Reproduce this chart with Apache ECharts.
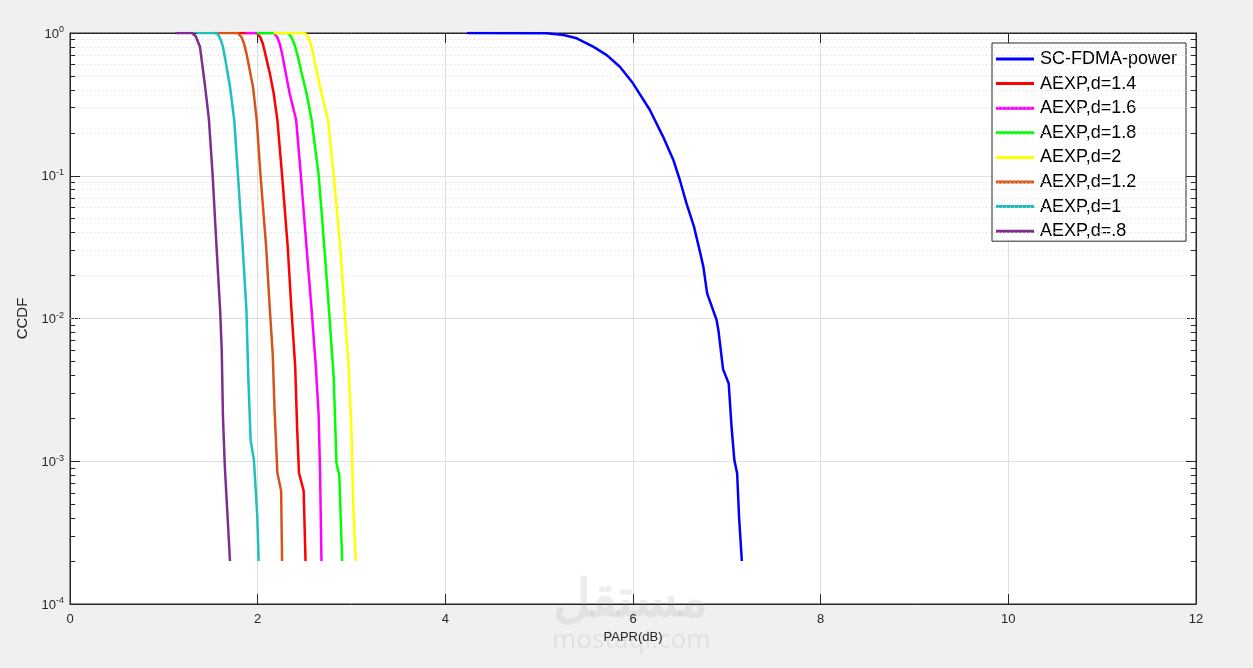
<!DOCTYPE html>
<html>
<head>
<meta charset="utf-8">
<script src="https://cdn.jsdelivr.net/npm/echarts@6/dist/echarts.min.js"></script>
<style>
html,body{margin:0;padding:0;background:#f0f0f0;}
#chart{width:1253px;height:668px;}
</style>
</head>
<body>
<div id="chart"></div>
<script>
// ---- Data ----
const seriesNames = ['SC-FDMA-power','AEXP,d=1.4','AEXP,d=1.6','AEXP,d=1.8','AEXP,d=2','AEXP,d=1.2','AEXP,d=1','AEXP,d=.8'];
const seriesColors = ['#0000ff','#ff0000','#ff00ff','#00ff00','#ffff00','#d95319','#1fbfbf','#7e2f8e'];

const scFdmaPower = [[4.23,1],[5.08,0.995],[5.26,0.968],[5.40,0.918],[5.58,0.80],[5.72,0.70],[5.86,0.58],[6.0,0.444],[6.18,0.289],[6.32,0.188],[6.43,0.129],[6.50,0.093],[6.57,0.064],[6.65,0.044],[6.71,0.030],[6.75,0.023],[6.79,0.015],[6.89,0.0098],[6.91,0.0083],[6.96,0.0044],[7.02,0.0035],[7.05,0.00175],[7.08,0.00102],[7.11,0.00082],[7.13,0.00041],[7.16,0.0002]];
const aexpD14 = [[1.78,1],[1.99,1],[2.01,0.98],[2.03,0.93],[2.055,0.84],[2.08,0.72],[2.13,0.52],[2.17,0.38],[2.21,0.246],[2.26,0.101],[2.32,0.032],[2.36,0.0115],[2.40,0.0046],[2.42,0.00174],[2.44,0.00083],[2.49,0.00062],[2.51,0.0002]];
const aexpD16 = [[1.87,1],[2.17,1],[2.19,0.98],[2.21,0.93],[2.235,0.84],[2.26,0.72],[2.30,0.52],[2.34,0.38],[2.41,0.246],[2.46,0.101],[2.52,0.032],[2.575,0.0115],[2.62,0.0046],[2.65,0.0021],[2.665,0.00083],[2.68,0.0002]];
const aexpD18 = [[1.99,1],[2.31,1],[2.335,0.98],[2.36,0.93],[2.39,0.84],[2.42,0.72],[2.47,0.52],[2.52,0.38],[2.575,0.246],[2.65,0.101],[2.71,0.032],[2.76,0.0115],[2.81,0.0039],[2.84,0.00097],[2.87,0.00080],[2.90,0.0002]];
const aexpD20 = [[2.17,1],[2.49,1],[2.515,0.98],[2.54,0.93],[2.565,0.84],[2.59,0.72],[2.635,0.52],[2.68,0.38],[2.75,0.246],[2.81,0.101],[2.88,0.032],[2.925,0.0115],[2.97,0.0046],[3.00,0.00156],[3.02,0.00046],[3.045,0.0002]];
const aexpD12 = [[1.53,1],[1.79,1],[1.81,0.98],[1.83,0.93],[1.855,0.84],[1.88,0.72],[1.915,0.55],[1.95,0.42],[1.99,0.246],[2.03,0.101],[2.09,0.032],[2.13,0.0115],[2.16,0.0057],[2.18,0.0023],[2.21,0.00083],[2.25,0.00062],[2.26,0.0002]];
const aexpD10 = [[1.35,1],[1.56,1],[1.575,0.98],[1.59,0.95],[1.61,0.88],[1.63,0.80],[1.665,0.60],[1.705,0.42],[1.75,0.246],[1.79,0.101],[1.84,0.032],[1.88,0.0115],[1.90,0.0039],[1.925,0.0014],[1.96,0.00102],[1.996,0.00041],[2.01,0.0002]];
const aexpD08 = [[1.12,1],[1.30,1],[1.32,0.98],[1.34,0.95],[1.36,0.88],[1.385,0.80],[1.41,0.60],[1.44,0.42],[1.48,0.25],[1.52,0.101],[1.556,0.037],[1.60,0.0115],[1.617,0.006],[1.63,0.00206],[1.65,0.00092],[1.705,0.0002]];
const seriesData = [scFdmaPower,aexpD14,aexpD16,aexpD18,aexpD20,aexpD12,aexpD10,aexpD08];

const xTicks = [0,2,4,6,8,10,12];
const yDecades = [1e-4,1e-3,1e-2,1e-1,1];
const minorMultipliers = [2,3,4,5,6,7,8,9];

// minor log values
const minorValues = [];
for (let i = 0; i < yDecades.length - 1; i++) {
  for (const m of minorMultipliers) minorValues.push(+(yDecades[i] * m).toPrecision(3));
}

const chart = echarts.init(document.getElementById('chart'));
const axisColor = '#262626';
const fontFam = 'Liberation Sans, Arial, sans-serif';
const tickLen = 0.055; // in x-units (~5px)
const xMin = xTicks[0], xMax = xTicks[xTicks.length - 1];

const series = seriesNames.map((name, i) => ({
  name: name,
  type: 'line',
  data: seriesData[i],
  symbol: 'none',
  showSymbol: false,
  lineStyle: { width: 2.5, color: seriesColors[i], type: 'solid' },
  itemStyle: { color: seriesColors[i], borderWidth: 0 },
  z: 5
}));

// Minor grid lines and minor ticks
series.unshift({
  name: '_minor',
  type: 'line',
  data: [],
  silent: true,
  markLine: {
    silent: true,
    symbol: 'none',
    animation: false,
    label: { show: false },
    lineStyle: { type: [1, 3], color: '#d4d4d4', width: 1 },
    data: minorValues.map(v => ({ yAxis: v }))
      .concat(minorValues.map(v => [
        { coord: [xMin, v], lineStyle: { type: 'solid', color: axisColor } },
        { coord: [xMin + tickLen, v] }
      ]))
      .concat(minorValues.map(v => [
        { coord: [xMax - tickLen, v], lineStyle: { type: 'solid', color: axisColor } },
        { coord: [xMax, v] }
      ]))
  },
  z: 1
});

chart.setOption({
  animation: false,
  backgroundColor: '#f0f0f0',
  grid: { left: 70, right: 57, top: 33, bottom: 64, show: true, backgroundColor: '#ffffff', borderColor: axisColor, borderWidth: 1 },
  legend: {
    data: seriesNames,
    orient: 'vertical',
    left: 992, top: 43,
    backgroundColor: '#ffffff',
    borderColor: axisColor,
    borderWidth: 1,
    padding: [7, 9, 1, 4],
    icon: 'rect',
    itemWidth: 38,
    itemHeight: 3,
    itemGap: 6.6,
    itemStyle: { borderWidth: 0, opacity: 1 },
    lineStyle: { type: 'solid', width: 3, opacity: 1 },
    textStyle: { fontFamily: fontFam, fontSize: 18, lineHeight: 18, color: '#000', padding: [0, 0, 0, 1] }
  },
  xAxis: [{
    type: 'value', min: xMin, max: xMax, interval: 2,
    name: 'PAPR(dB)', nameLocation: 'middle', nameGap: 27,
    nameTextStyle: { fontFamily: fontFam, fontSize: 13, color: '#262626' },
    axisLine: { show: true, onZero: false, lineStyle: { color: axisColor } },
    axisTick: { show: true, inside: true, length: 10, lineStyle: { color: axisColor } },
    axisLabel: { margin: 9, fontFamily: fontFam, fontSize: 13, color: '#262626' },
    splitLine: { show: true, lineStyle: { color: '#e0e0e0', width: 1 } }
  }, {
    type: 'value', min: xMin, max: xMax, interval: 2, position: 'top',
    axisLine: { show: true, onZero: false, lineStyle: { color: axisColor } },
    axisTick: { show: true, inside: true, length: 10, lineStyle: { color: axisColor } },
    axisLabel: { show: false },
    splitLine: { show: false }
  }],
  yAxis: [{
    type: 'log', logBase: 10, min: 1e-4, max: 1,
    name: 'CCDF', nameLocation: 'middle', nameGap: 36,
    nameTextStyle: { fontFamily: fontFam, fontSize: 15, color: '#262626' },
    axisLine: { show: true, onZero: false, lineStyle: { color: axisColor } },
    axisTick: { show: true, inside: true, length: 10, lineStyle: { color: axisColor } },
    axisLabel: {
      margin: 6,
      formatter: v => '{b|10}{s|' + Math.round(Math.log10(v)) + '}',
      rich: {
        b: { fontFamily: fontFam, fontSize: 13, color: '#262626', verticalAlign: 'bottom', lineHeight: 15 },
        s: { fontFamily: fontFam, fontSize: 9, color: '#262626', verticalAlign: 'top', lineHeight: 15 }
      }
    },
    splitLine: { show: true, lineStyle: { color: '#e0e0e0', width: 1 } }
  }, {
    type: 'log', logBase: 10, min: 1e-4, max: 1, position: 'right',
    axisLine: { show: true, onZero: false, lineStyle: { color: axisColor } },
    axisTick: { show: true, inside: true, length: 10, lineStyle: { color: axisColor } },
    axisLabel: { show: false },
    splitLine: { show: false }
  }],
  graphic: [
    { type: 'text', left: 553, top: 575, silent: true, z: 0,
      style: { text: 'مستقل', font: 'bold 52px "Noto Sans", sans-serif', fill: 'rgba(200,200,200,0.35)' } },
    { type: 'text', left: 552, top: 628, silent: true, z: 0,
      style: { text: 'mostaql.com', font: '26px "Noto Sans", sans-serif', fill: 'rgba(200,200,200,0.35)' } }
  ],
  series: series
});
</script>
</body>
</html>
